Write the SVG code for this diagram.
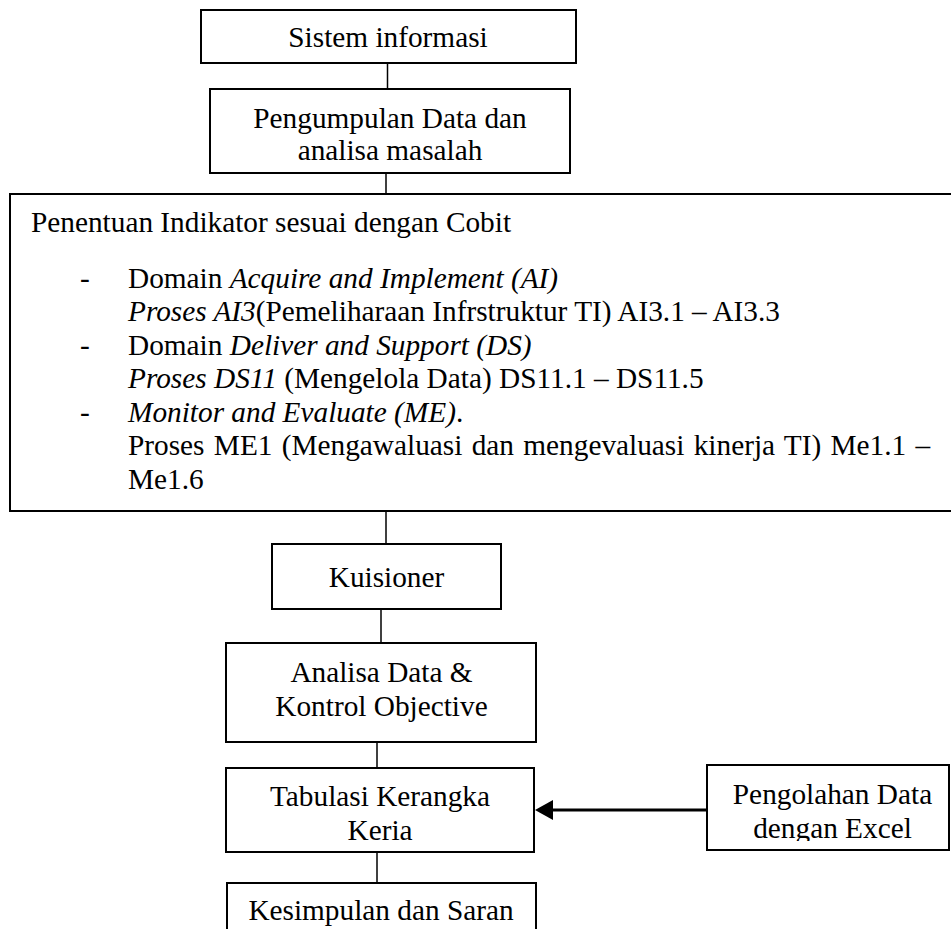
<svg xmlns="http://www.w3.org/2000/svg" width="951" height="929" viewBox="0 0 951 929">
<style>
.box{fill:#fff;stroke:#000;stroke-width:2}
.t{font-family:"Liberation Serif","Times New Roman",serif;font-size:29.3px;fill:#000}
.c{text-anchor:middle}
.i{font-style:italic}
.ln{stroke:#000;stroke-width:1.5;fill:none}
.arr{stroke:#000;stroke-width:3;fill:none}
</style>
<defs>
<clipPath id="clipTab"><rect x="226" y="768" width="308" height="80"/></clipPath>
<clipPath id="clipPeng"><rect x="707" y="765" width="244" height="76"/></clipPath>
</defs>
<rect width="951" height="929" fill="#fff"/>
<g id="connectors">
<line class="ln" x1="387.5" y1="63" x2="387.5" y2="89"/>
<line class="ln" x1="386" y1="173" x2="386" y2="194"/>
<line class="ln" x1="386" y1="511" x2="386" y2="544"/>
<line class="ln" x1="381" y1="609" x2="381" y2="643"/>
<line class="ln" x1="377" y1="742" x2="377" y2="768"/>
<line class="ln" x1="377" y1="852" x2="377" y2="883"/>
<line class="arr" x1="707" y1="810" x2="550" y2="810"/>
<path d="M535,810 L553,800 L553,820 Z" fill="#000"/>
</g>
<g id="sistem-informasi">
<rect class="box" x="201" y="10" width="375" height="53"/>
<text class="t c" x="388" y="46.5">Sistem informasi</text>
</g>
<g id="pengumpulan-data">
<rect class="box" x="210" y="89" width="360" height="84"/>
<text class="t c" x="390" y="128">Pengumpulan Data dan</text>
<text class="t c" x="390" y="160">analisa masalah</text>
</g>
<g id="penentuan-indikator">
<rect class="box" x="10" y="194" width="960" height="317"/>
<text class="t" x="31" y="232">Penentuan Indikator sesuai dengan Cobit</text>
<text class="t" x="80" y="287.5">-</text>
<text class="t" x="128" y="287.5">Domain <tspan class="i">Acquire and Implement (AI)</tspan></text>
<text class="t" x="128" y="321"><tspan class="i">Proses AI3</tspan>(Pemeliharaan Infrstruktur TI) AI3.1 – AI3.3</text>
<text class="t" x="80" y="354.5">-</text>
<text class="t" x="128" y="354.5">Domain <tspan class="i">Deliver and Support (DS)</tspan></text>
<text class="t" x="128" y="388"><tspan class="i">Proses DS11</tspan> (Mengelola Data) DS11.1 – DS11.5</text>
<text class="t" x="80" y="421.5">-</text>
<text class="t" x="128" y="421.5"><tspan class="i">Monitor and Evaluate (ME)</tspan>.</text>
<text class="t" x="128" y="455" word-spacing="2">Proses ME1 (Mengawaluasi dan mengevaluasi kinerja TI) Me1.1 –</text>
<text class="t" x="128" y="488.5">Me1.6</text>
</g>
<g id="kuisioner">
<rect class="box" x="272" y="544" width="229" height="65"/>
<text class="t c" x="386.5" y="587">Kuisioner</text>
</g>
<g id="analisa-data">
<rect class="box" x="226" y="643" width="310" height="99"/>
<text class="t c" x="381.5" y="682">Analisa Data &amp;</text>
<text class="t c" x="381.5" y="716">Kontrol Objective</text>
</g>
<g id="tabulasi">
<rect class="box" x="226" y="768" width="308" height="84"/>
<g clip-path="url(#clipTab)">
<text class="t c" x="380" y="806">Tabulasi Kerangka</text>
<text class="t c" x="380" y="840">Keria</text>
</g>
</g>
<g id="pengolahan-data">
<rect class="box" x="707" y="765" width="242" height="85"/>
<g clip-path="url(#clipPeng)">
<text class="t c" x="832.5" y="804">Pengolahan Data</text>
<text class="t c" x="832.5" y="838">dengan Excel</text>
</g>
</g>
<g id="kesimpulan">
<rect class="box" x="227" y="883" width="309" height="60"/>
<text class="t c" x="381" y="920">Kesimpulan dan Saran</text>
</g>
</svg>
